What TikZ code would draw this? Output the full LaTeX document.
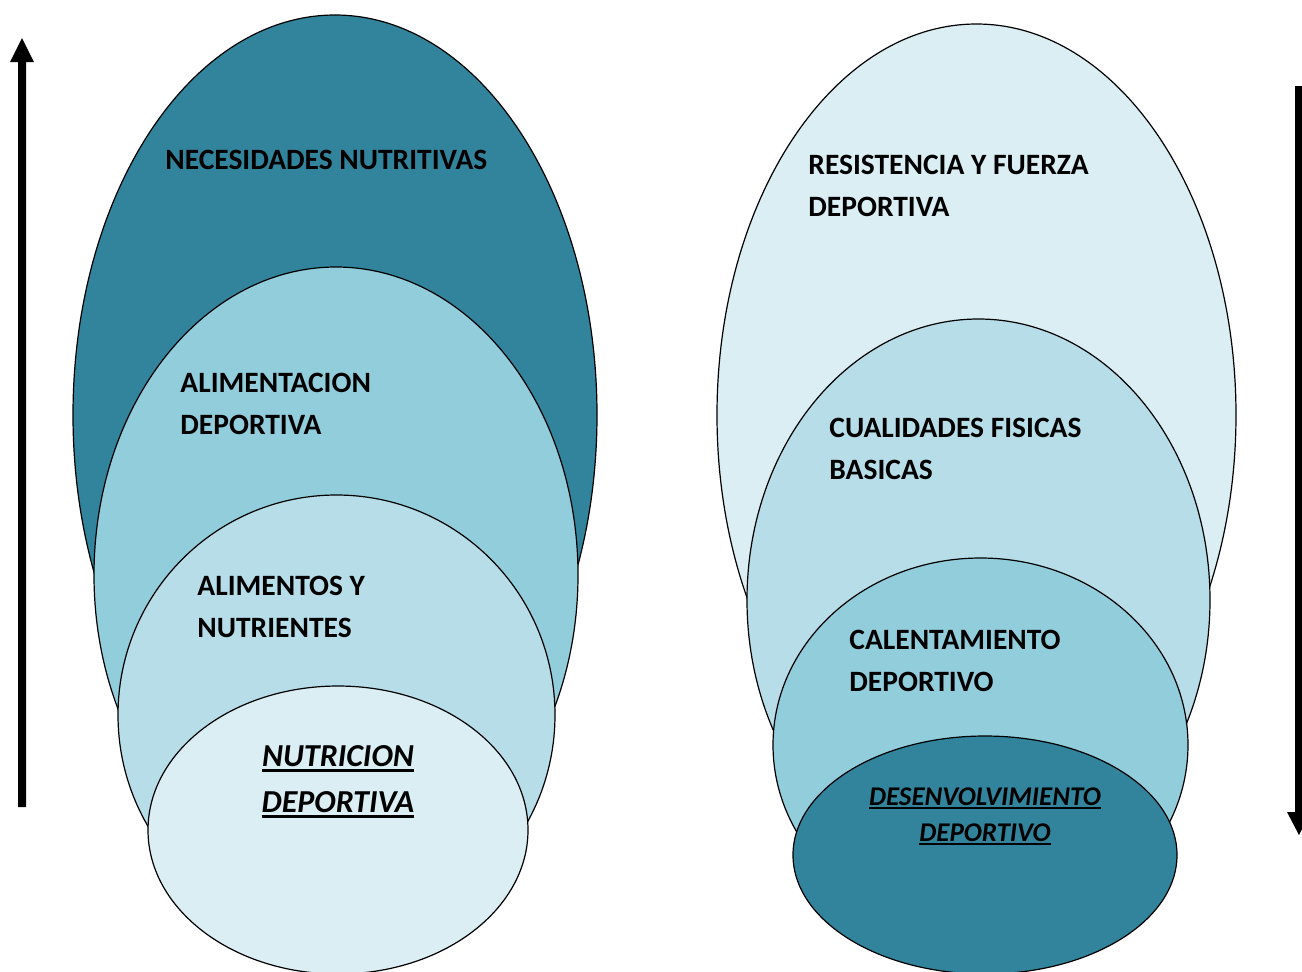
\documentclass[tikz,border=0pt]{standalone}
\usepackage{fontspec}
\setmainfont{Carlito}
\definecolor{tealdark}{HTML}{31849B}
\definecolor{tealmid}{HTML}{92CDDC}
\definecolor{teallight}{HTML}{B6DDE8}
\definecolor{tealpale}{HTML}{DAEEF3}
\newcommand\ulbar[2]{\setbox0=\hbox{#2}\rlap{\rule[-#1]{\wd0}{1.4pt}}\box0}
\tikzset{
  blob/.style={draw=black, line width=0.6pt},
  lbl/.style={anchor=base west, inner sep=0pt, align=left, font=\bfseries\fontsize{14.75}{21}\selectfont},
  ital/.style={anchor=base, inner sep=0pt, align=center, font=\bfseries\itshape\fontsize{16}{23}\selectfont},
  italsm/.style={anchor=base, inner sep=0pt, align=center, font=\bfseries\itshape\fontsize{13.5}{18}\selectfont},
  bigarrow/.style={fill=black, draw=none}
}
\begin{document}
\begin{tikzpicture}[x=0.5pt,y=-0.5pt]
\useasboundingbox (0,0) rectangle (1302,971);
\clip (0,0) rectangle (1302,971);
% left stack
\filldraw[blob, fill=tealdark] (335,415) ellipse [x radius=262, y radius=400];
\filldraw[blob, fill=tealmid] (336,575) ellipse [x radius=242, y radius=308];
\filldraw[blob, fill=teallight] (336.5,715) ellipse [x radius=218.5, y radius=220];
\filldraw[blob, fill=tealpale] (338,830) ellipse [x radius=190, y radius=144];
% right stack
\filldraw[blob, fill=tealpale] (976.5,415) ellipse [x radius=259.5, y radius=391];
\filldraw[blob, fill=teallight] (978.5,600) ellipse [x radius=231.5, y radius=281];
\filldraw[blob, fill=tealmid] (980.5,745) ellipse [x radius=207.5, y radius=187];
\filldraw[blob, fill=tealdark] (985,855) ellipse [x radius=192, y radius=119];
% labels left (base anchor = baseline of last line)
\node[lbl] (nec) at (165,169) {NECESIDADES NUTRITIVAS};
\node[lbl] (ali) at (180,434) {ALIMENTACION\\DEPORTIVA};
\node[lbl] (alim) at (197,637) {ALIMENTOS Y\\NUTRIENTES};
\node[ital] (nut) at (338,812) {\ulbar{3pt}{NUTRICION}\\\ulbar{3pt}{DEPORTIVA}};
% labels right
\node[lbl] (res) at (808,216) {RESISTENCIA Y FUERZA\\DEPORTIVA};
\node[lbl] (cua) at (829,479) {CUALIDADES FISICAS\\BASICAS};
\node[lbl] (cal) at (849,691) {CALENTAMIENTO\\DEPORTIVO};
\node[italsm] (des) at (985,841) {\ulbar{2.2pt}{DESENVOLVIMIENTO}\\\ulbar{2.2pt}{DEPORTIVO}};
% arrows
\fill[bigarrow] (18,807) -- (18,62) -- (10,62) -- (22,38) -- (34,62) -- (26,62) -- (26,807) -- cycle;
\fill[bigarrow] (1295,86) -- (1295,812) -- (1287,812) -- (1299,835) -- (1311,812) -- (1303,812) -- (1303,86) -- cycle;
\end{tikzpicture}
\end{document}
